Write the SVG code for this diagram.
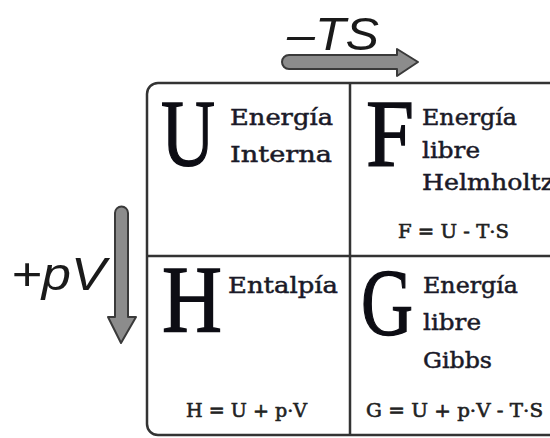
<svg xmlns="http://www.w3.org/2000/svg" width="550" height="438" viewBox="0 0 550 438">
<style>
.big{font-family:"Liberation Serif","Times New Roman",serif;font-size:96px;fill:#0d0d14;stroke:#0d0d14;stroke-width:1.4}
.lbl{font-family:"DejaVu Serif","Liberation Serif",serif;font-size:23px;fill:#1a1a28;stroke:#1a1a28;stroke-width:0.5}
.eq{font-family:"DejaVu Serif","Liberation Serif",serif;font-size:19px;fill:#222;stroke:#222;stroke-width:0.6}
.it{font-family:"Liberation Sans",Arial,sans-serif;font-style:italic;font-size:46px;fill:#1a1a1a}
.arr{fill:#8c8c8c;stroke:#3a3a3a;stroke-width:2;stroke-linejoin:round}
.line{stroke:#333;stroke-width:2.5;fill:none}
</style>
<rect width="550" height="438" fill="#fff"/>
<g id="frame">
<rect class="line" x="147" y="83" width="420" height="352" rx="11"/>
<line class="line" x1="350" y1="83" x2="350" y2="435"/>
<line class="line" x1="147" y1="256" x2="560" y2="256"/>
</g>
<g id="node-U">
<text class="big" x="161" y="166" textLength="54" lengthAdjust="spacingAndGlyphs">U</text>
<text class="lbl" x="230" y="125" textLength="103" lengthAdjust="spacingAndGlyphs">Energía</text>
<text class="lbl" x="230" y="162" textLength="102" lengthAdjust="spacingAndGlyphs">Interna</text>
</g>
<g id="node-F">
<text class="big" x="366" y="166" textLength="48" lengthAdjust="spacingAndGlyphs">F</text>
<text class="lbl" x="422" y="125" textLength="95" lengthAdjust="spacingAndGlyphs">Energía</text>
<text class="lbl" x="422" y="158" textLength="58" lengthAdjust="spacingAndGlyphs">libre</text>
<text class="lbl" x="422" y="190" textLength="132" lengthAdjust="spacingAndGlyphs">Helmholtz</text>
<text class="eq" x="398" y="238" textLength="111" lengthAdjust="spacingAndGlyphs">F = U - T·S</text>
</g>
<g id="node-H">
<text class="big" x="162" y="332" textLength="60" lengthAdjust="spacingAndGlyphs">H</text>
<text class="lbl" x="228" y="293" textLength="110" lengthAdjust="spacingAndGlyphs">Entalpía</text>
<text class="eq" x="186" y="417" textLength="121" lengthAdjust="spacingAndGlyphs">H = U + p·V</text>
</g>
<g id="node-G">
<text class="big" x="361" y="335" textLength="52" lengthAdjust="spacingAndGlyphs">G</text>
<text class="lbl" x="423" y="293" textLength="95" lengthAdjust="spacingAndGlyphs">Energía</text>
<text class="lbl" x="423" y="330" textLength="58" lengthAdjust="spacingAndGlyphs">libre</text>
<text class="lbl" x="423" y="368" textLength="69" lengthAdjust="spacingAndGlyphs">Gibbs</text>
<text class="eq" x="366" y="417" textLength="177" lengthAdjust="spacingAndGlyphs">G = U + p·V - T·S</text>
</g>
<g id="connectors">
<path class="arr" d="M289,55 H397 V49 L418,62 L397,76 V69 H289 A7,7 0 0 1 289,55 Z"/>
<text class="it" x="287" y="50" textLength="92" lengthAdjust="spacingAndGlyphs">–TS</text>
<path class="arr" d="M115,213 V317 H108 L121,343 L136,317 H128 V213 A6.5,6.5 0 0 0 115,213 Z"/>
<text class="it" x="11" y="290" textLength="95" lengthAdjust="spacingAndGlyphs">+pV</text>
</g>
</svg>
